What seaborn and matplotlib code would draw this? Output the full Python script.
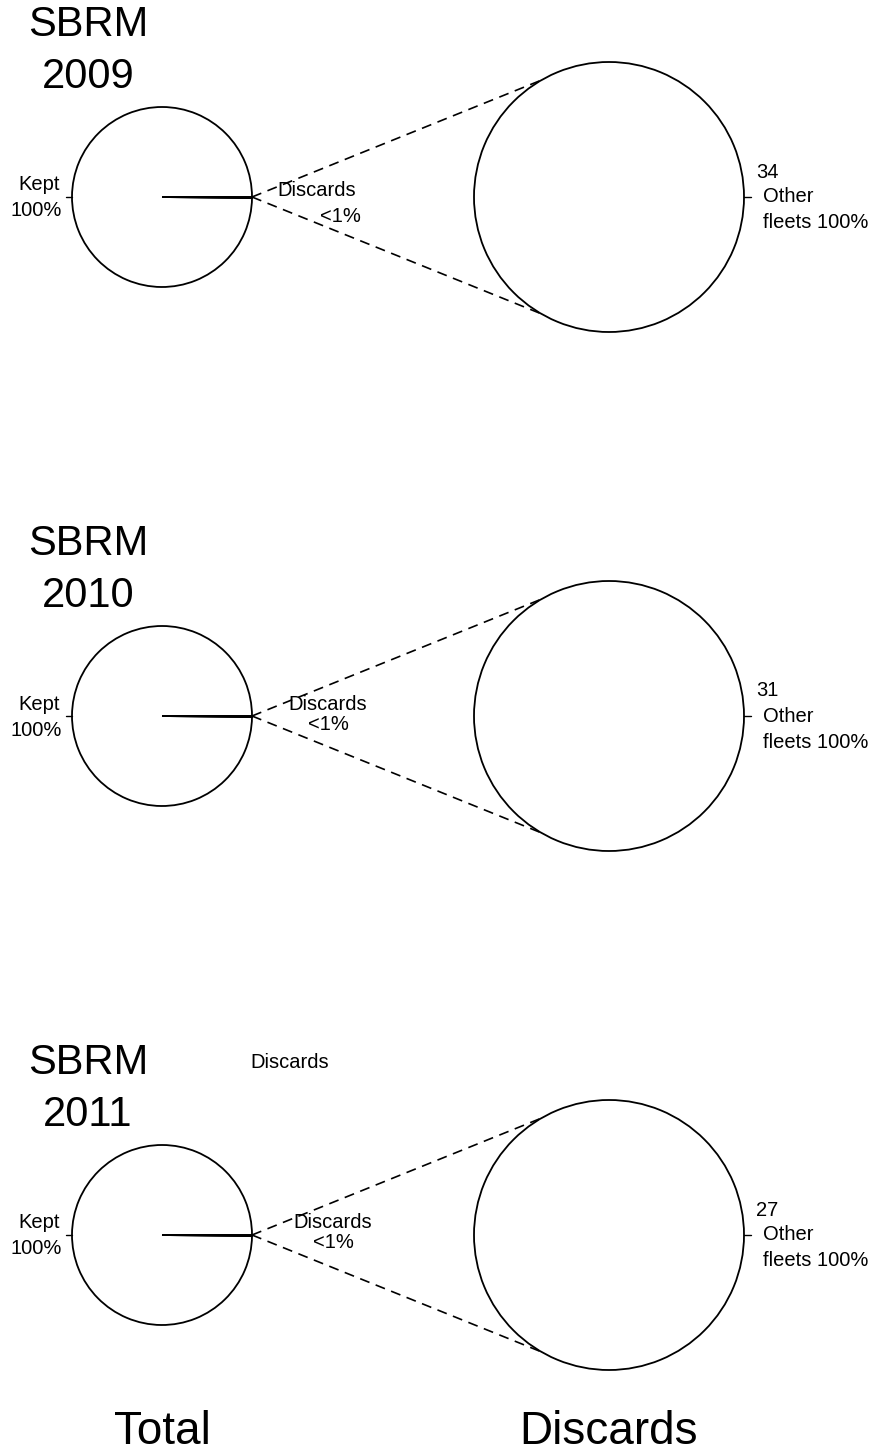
import numpy as np
import matplotlib
matplotlib.use('Agg')
import matplotlib.pyplot as plt
import seaborn as sns

# --- Data ---
years = [2009, 2010, 2011]
kept_pct = [99.8, 99.8, 99.8]
discard_pct = [0.2, 0.2, 0.2]
other_fleets_pct = [100, 100, 100]
n_trips = [34, 31, 27]

# --- Layout (pixels, y downwards) ---
W, H = 878, 1456
row_y = [197, 716, 1235]
small_x, small_r = 162, 90
big_x, big_r = 609, 135
# where the "Discards <1%" label sits in each row
disc_lab = [((317, 190), (340, 217)), ((328, 704), (328, 724)), ((333, 1222), (333, 1243))]

sns.set_theme(style="white")
plt.rcParams['font.family'] = ['Liberation Sans', 'DejaVu Sans']
plt.rcParams['text.color'] = 'black'

fig = plt.figure(figsize=(W / 100, H / 100), dpi=100)
ax = fig.add_axes([0, 0, 1, 1])

wp = dict(edgecolor='black', facecolor='white', linewidth=1.3)
fs = 14.5

for i, yr in enumerate(years):
    cy = row_y[i]

    # small pie: total catch
    ax.pie([kept_pct[i], discard_pct[i]], center=(small_x, cy), radius=small_r,
           startangle=0, counterclock=False, wedgeprops=wp, frame=True)
    # big pie: discards by fleet
    ax.pie([other_fleets_pct[i]], center=(big_x, cy), radius=big_r,
           startangle=180, wedgeprops=wp, frame=True)

    # dashed connectors from the discard slice to the big pie
    x0, y0 = small_x + small_r, cy
    for ang in (120, 240):
        a = np.deg2rad(ang)
        x1 = big_x + big_r * np.cos(a)
        y1 = cy - big_r * np.sin(a)
        ax.plot([x0, x1], [y0, y1], color='black', lw=1.2, ls=(0, (6, 4)))

    # labels and tick marks
    ax.plot([small_x - small_r - 6, small_x - small_r], [cy, cy], color='black', lw=1)
    ax.text(60, cy - 12, 'Kept', ha='right', va='center', fontsize=fs)
    ax.text(62, cy + 14, '100%', ha='right', va='center', fontsize=fs)
    (dx1, dy1), (dx2, dy2) = disc_lab[i]
    ax.text(dx1, dy1, 'Discards', ha='center', va='center', fontsize=fs)
    ax.text(dx2, dy2, '<1%', ha='center', va='center', fontsize=fs)

    ax.plot([big_x + big_r, big_x + big_r + 7], [cy, cy], color='black', lw=1)
    ax.text(756, cy - 25, str(n_trips[i]), ha='left', va='center', fontsize=fs)
    ax.text(763, cy, 'Other', ha='left', va='center', fontsize=fs)
    ax.text(763, cy + 26, 'fleets 100%', ha='left', va='center', fontsize=fs)

    # row title
    ax.text(88, cy - 172, 'SBRM', ha='center', va='center', fontsize=30)
    ax.text(88, cy - 120, str(yr), ha='center', va='center', fontsize=30)

ax.text(290, 1063, 'Discards', ha='center', va='center', fontsize=fs)

ax.text(small_x, 1432, 'Total', ha='center', va='center', fontsize=33)
ax.text(big_x, 1432, 'Discards', ha='center', va='center', fontsize=33)

ax.set_xlim(0, W)
ax.set_ylim(H, 0)
ax.set_axis_off()

fig.savefig('out.png', dpi=100, facecolor='white')
